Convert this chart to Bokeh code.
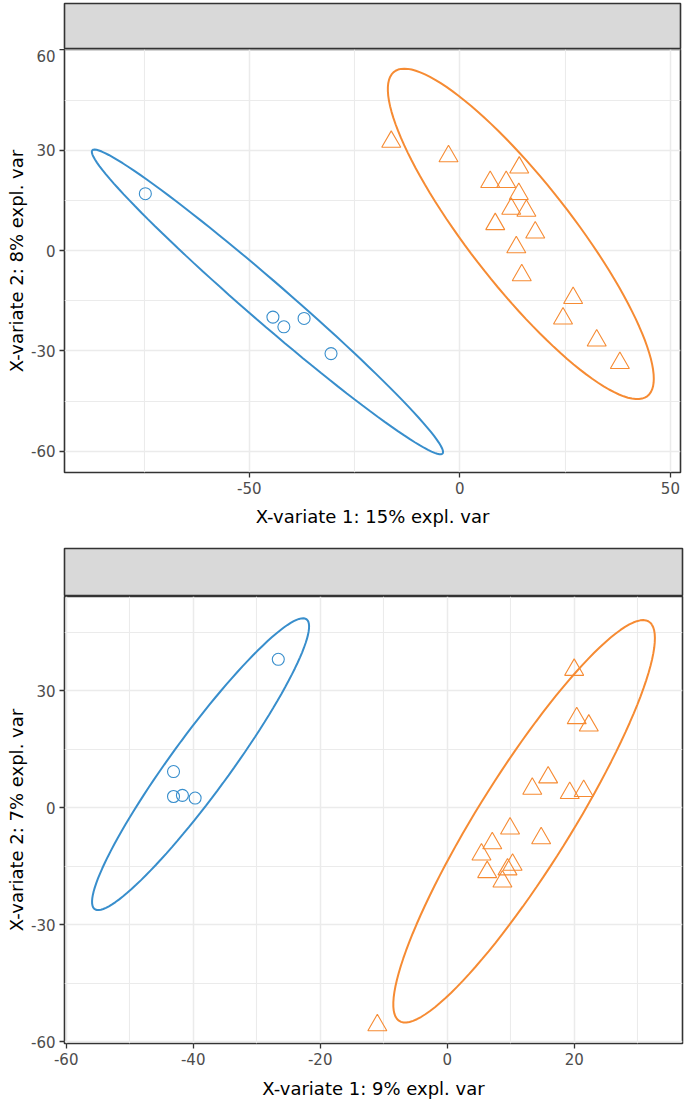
import numpy as np
from bokeh.plotting import figure
from bokeh.layouts import column
from bokeh.models import Range1d, FixedTicker
from bokeh.embed import file_html
from bokeh.resources import INLINE

# ---------------- data ----------------
# Panel 1 (top)
p1_x_ticks = [-50, 0, 50]
p1_x_minor = [-75, -25, 25]
p1_y_ticks = [-60, -30, 0, 30, 60]
p1_y_minor = [-45, -15, 15, 45]
p1_xlabel = "X-variate 1: 15% expl. var"
p1_ylabel = "X-variate 2: 8% expl. var"
p1_blue_x = [-74.7, -44.4, -41.8, -37.0, -30.6]
p1_blue_y = [17.0, -19.9, -22.8, -20.3, -30.8]
p1_orange_x = [-16.3, -2.7, 14.1, 7.2, 11.0, 14.0, 12.2, 15.8, 8.4, 17.9,
               13.4, 14.7, 26.9, 24.5, 32.5, 38.0]
p1_orange_y = [32.5, 28.2, 24.8, 20.5, 20.5, 16.9, 12.5, 11.9, 7.9, 5.4,
               1.0, -7.4, -14.2, -20.3, -26.9, -33.6]

# Panel 2 (bottom)
p2_x_ticks = [-60, -40, -20, 0, 20]
p2_x_minor = [-50, -30, -10, 10, 30]
p2_y_ticks = [-60, -30, 0, 30]
p2_y_minor = [-45, -15, 15, 45]
p2_xlabel = "X-variate 1: 9% expl. var"
p2_ylabel = "X-variate 2: 7% expl. var"
p2_blue_x = [-26.6, -43.1, -43.1, -41.7, -39.7]
p2_blue_y = [38.1, 9.3, 2.9, 3.2, 2.5]
p2_orange_x = [20.0, 20.4, 22.3, 15.9, 13.4, 19.3, 21.5, 9.9, 14.8, 7.1,
               5.4, 10.3, 9.5, 6.3, 8.7, -11.0]
p2_orange_y = [35.4, 23.0, 21.1, 7.8, 4.9, 3.8, 4.3, -5.3, -7.8, -9.1,
               -12.0, -14.6, -15.8, -16.5, -18.9, -55.8]

ELLIPSE_LEVEL = 0.95

# ---------------- style ----------------
BLUE = "#388ECC"
ORANGE = "#F68B33"
BORDER = "#333333"
GRID = "#EBEBEB"
STRIP = "#D9D9D9"
FONT = "DejaVu Sans"
LEFT = 64


def conf_ellipse(x, y, level=ELLIPSE_LEVEL, n=120):
    """Confidence ellipse as in ellipse::ellipse (used by mixOmics)."""
    x = np.asarray(x, float)
    y = np.asarray(y, float)
    c = np.cov(x, y)
    t = np.sqrt(-2.0 * np.log(1.0 - level))  # sqrt(qchisq(level, 2))
    sx, sy = np.sqrt(c[0, 0]), np.sqrt(c[1, 1])
    r = c[0, 1] / (sx * sy)
    d = np.arccos(r)
    a = np.linspace(0, 2 * np.pi, n)
    return (t * sx * np.cos(a + d / 2) + x.mean(),
            t * sy * np.cos(a - d / 2) + y.mean())


def strip(width, height, top, right):
    s = figure(width=width, height=height, x_range=Range1d(0, 1), y_range=Range1d(0, 1),
               toolbar_location=None, output_backend="svg",
               x_axis_location=None, y_axis_location=None,
               min_border_left=LEFT, min_border_right=right,
               min_border_top=top, min_border_bottom=0,
               background_fill_color=STRIP, border_fill_color="white",
               outline_line_color=BORDER, outline_line_width=1.6)
    s.grid.visible = False
    return s


def panel(width, height, right, bottom, xr, yr, xt, xm, yt, ym, xlabel, ylabel,
          bx, by, ox, oy, xlab_standoff):
    p = figure(width=width, height=height, x_range=Range1d(*xr), y_range=Range1d(*yr),
               toolbar_location=None, output_backend="svg",
               min_border_left=LEFT, min_border_right=right,
               min_border_top=0, min_border_bottom=bottom,
               background_fill_color="white", border_fill_color="white",
               outline_line_color=BORDER, outline_line_width=1.6)
    xtick = FixedTicker(ticks=xt, minor_ticks=xm)
    ytick = FixedTicker(ticks=yt, minor_ticks=ym)
    p.xaxis.ticker = xtick
    p.yaxis.ticker = ytick
    p.xgrid.ticker = xtick
    p.ygrid.ticker = ytick
    p.xaxis.major_label_overrides = {t: str(t) for t in xt}
    p.yaxis.major_label_overrides = {t: str(t) for t in yt}
    for g in (p.xgrid, p.ygrid):
        g.grid_line_color = GRID
        g.grid_line_width = 1.5
        g.minor_grid_line_color = GRID
        g.minor_grid_line_width = 1.1
    for ax in (p.xaxis, p.yaxis):
        ax.axis_line_color = None
        ax.major_tick_line_color = BORDER
        ax.major_tick_line_width = 1.3
        ax.major_tick_out = 5
        ax.major_tick_in = 0
        ax.minor_tick_line_color = None
        ax.major_label_text_font = FONT
        ax.major_label_text_font_size = "15px"
        ax.major_label_text_color = "#4D4D4D"
        ax.major_label_standoff = 4
        ax.axis_label_text_font = FONT
        ax.axis_label_text_font_size = "18px"
        ax.axis_label_text_font_style = "normal"
        ax.axis_label_text_color = "black"
    p.xaxis.axis_label = xlabel
    p.yaxis.axis_label = ylabel
    p.xaxis.axis_label_standoff = xlab_standoff
    p.yaxis.axis_label_standoff = 1

    ebx, eby = conf_ellipse(bx, by)
    eox, eoy = conf_ellipse(ox, oy)
    p.scatter(bx, by, marker="circle", size=12, fill_color=None,
              line_color=BLUE, line_width=1.1)
    p.scatter(ox, oy, marker="triangle", size=19, fill_color=None,
              line_color=ORANGE, line_width=1.1)
    p.line(ebx, eby, line_color=BLUE, line_width=2.0)
    p.line(eox, eoy, line_color=ORANGE, line_width=2.0)
    return p


s1 = strip(684, 49, 3, 4)
p1 = panel(684, 480, 4, 56, (-93.9, 52.4), (-66.35, 60.1),
           p1_x_ticks, p1_x_minor, p1_y_ticks, p1_y_minor, p1_xlabel, p1_ylabel,
           p1_blue_x, p1_blue_y, p1_orange_x, p1_orange_y, 9)
s2 = strip(686, 67, 19, 2)
p2 = panel(686, 507, 2, 60, (-60.27, 37.06), (-60.48, 54.22),
           p2_x_ticks, p2_x_minor, p2_y_ticks, p2_y_minor, p2_xlabel, p2_ylabel,
           p2_blue_x, p2_blue_y, p2_orange_x, p2_orange_y, 10)

layout = column(s1, p1, s2, p2, spacing=0)
open("out.html", "w").write(file_html(layout, INLINE))
